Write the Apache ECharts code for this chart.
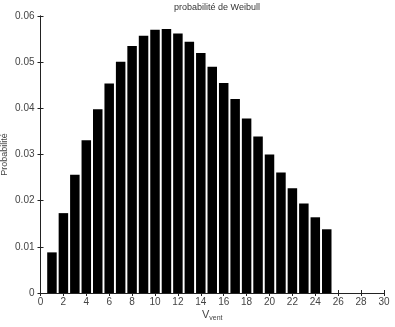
<!DOCTYPE html>
<html><head><meta charset="utf-8">
<script src="https://cdn.jsdelivr.net/npm/echarts@6/dist/echarts.min.js"></script>
<style>html,body{margin:0;padding:0;background:#fff}#c{width:395px;height:327px}</style>
</head><body><div id="c"></div>
<script>
const speeds = [1,2,3,4,5,6,7,8,9,10,11,12,13,14,15,16,17,18,19,20,21,22,23,24,25];
const probs = [0.0088,0.0173,0.0256,0.0331,0.0398,0.0454,0.0501,0.0535,0.0557,0.0570,0.0572,0.0562,0.0544,0.0520,0.0490,0.0455,0.0420,0.0378,0.0339,0.0300,0.0261,0.0227,0.0194,0.0164,0.0138];
const xTicks = {min:0, max:30, interval:2};
const yTicks = {min:0, max:0.06, interval:0.01};
const titleText = 'probabilité de Weibull';
const yName = 'Probabilité';

const chart = echarts.init(document.getElementById('c'), null, {renderer:'canvas'});
const axisCol = '#222';
const labCol = '#444';
const font = 'Liberation Sans, Arial, sans-serif';
chart.setOption({
  animation:false,
  backgroundColor:'#fff',
  title:{text:titleText, left:212, top:-2, textAlign:'center',
    textStyle:{fontSize:9, fontWeight:'normal', color:'#333', fontFamily:font}},
  grid:{left:40.5, right:11, top:16, bottom:34, containLabel:false, outerBoundsMode:'none'},
  xAxis:[{
    type:'value', min:xTicks.min, max:xTicks.max, interval:xTicks.interval,
    position:'bottom',
    name:'{a|V}{b|vent}', nameLocation:'middle', nameGap:14, nameMoveOverlap:false,
    nameTextStyle:{rich:{a:{fontSize:11, color:labCol, fontFamily:font},
                         b:{fontSize:7, color:labCol, fontFamily:font, padding:[8,0,0,0]}}},
    axisLine:{lineStyle:{color:axisCol, width:1}},
    axisTick:{inside:true, length:3, lineStyle:{color:axisCol}},
    axisLabel:{fontSize:10, color:labCol, margin:4, fontFamily:font},
    splitLine:{show:false}
  },{
    type:'value', min:xTicks.min, max:xTicks.max, interval:xTicks.interval,
    position:'top',
    axisLine:{show:true, lineStyle:{color:axisCol, width:1}},
    axisTick:{inside:true, length:3, lineStyle:{color:axisCol}},
    axisLabel:{show:false}, splitLine:{show:false}
  }],
  yAxis:[{
    type:'value', min:yTicks.min, max:yTicks.max, interval:yTicks.interval,
    position:'left',
    name:yName, nameLocation:'middle', nameGap:31, nameMoveOverlap:false,
    nameTextStyle:{fontSize:9, color:labCol, fontFamily:font},
    axisLine:{show:true, lineStyle:{color:axisCol, width:1}},
    axisTick:{show:true, inside:true, length:3, lineStyle:{color:axisCol}},
    axisLabel:{fontSize:10, color:labCol, margin:6, fontFamily:font,
      formatter:v => v === 0 ? '0' : v.toFixed(2)},
    splitLine:{show:false}
  },{
    type:'value', min:yTicks.min, max:yTicks.max, interval:yTicks.interval,
    position:'right',
    axisLine:{show:true, lineStyle:{color:axisCol, width:1}},
    axisTick:{show:true, inside:true, length:3, lineStyle:{color:axisCol}},
    axisLabel:{show:false}, splitLine:{show:false}
  }],
  series:[{
    type:'bar', xAxisIndex:0, yAxisIndex:0,
    data:speeds.map((s,i)=>[s, probs[i]]),
    barWidth:9.5,
    itemStyle:{color:'#000'}
  }]
});
</script></body></html>
